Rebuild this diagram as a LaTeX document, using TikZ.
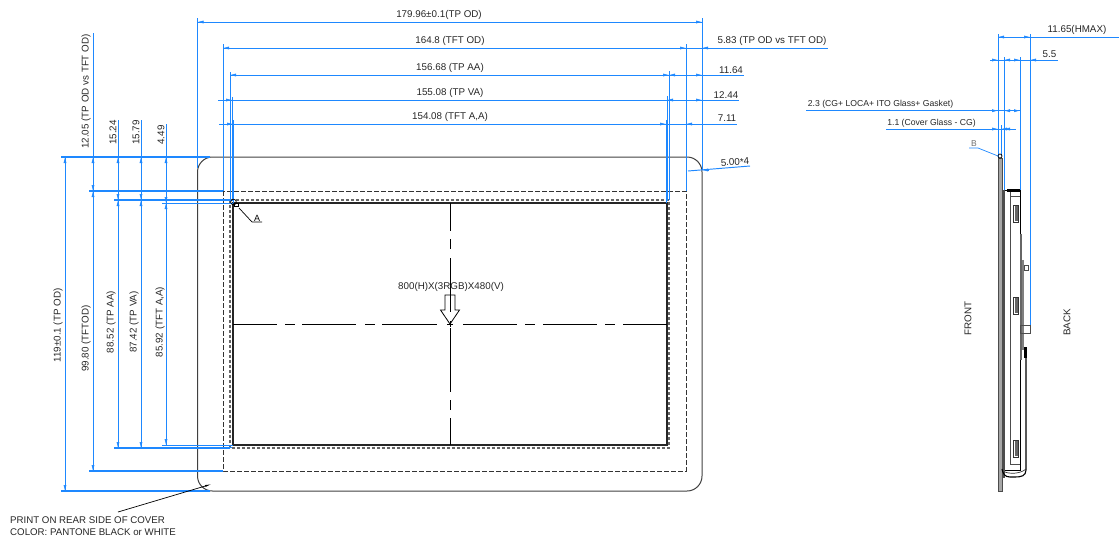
\documentclass[tikz,border=0pt]{standalone}
\usepackage{fontspec}
\setmainfont{Liberation Sans}
\usetikzlibrary{arrows.meta}
\definecolor{dimblue}{RGB}{30,136,255}
\definecolor{partgray}{RGB}{110,110,110}

\begin{document}
\begin{tikzpicture}
    [
      x=1pt, y=-1pt,
      dimline/.style = {draw=dimblue, line width=0.95pt},
      dimheavy/.style = {draw=dimblue, line width=1.3pt},
      dimtip/.style = {draw=dimblue, line width=0.5pt, -{Latex[length=6pt,width=3pt]}},
      dimtext/.style = {font=\fontsize{9.8}{11}\selectfont, inner sep=0pt, text=black!85},
      sidetext/.style = {dimtext, rotate=90},
      outline/.style = {draw=black!75, line width=1pt},
      dashbox/.style = {draw=black!80, line width=1pt, dash pattern=on 5pt off 2pt},
      centerline/.style = {draw=black, line width=0.8pt},
      leader/.style = {draw=black, line width=0.7pt},
    ]
    \useasboundingbox (0,0) rectangle (1119,539);

    % panel outlines
    \draw[outline] (197.5,157) [rounded corners=15pt] rectangle (702,491);
    \draw[dashbox] (223,191) rectangle (686,471);
    \draw[dashbox, draw=black!60, line width=1.2pt, dash pattern=on 3pt off 2pt] (230,200) rectangle (669,448);
    \draw[draw=black!85, line width=1.2pt] (233,203) rectangle (667,445);

    % center lines
    \foreach \xa/\xb in {233/277,285/295,302/356,365/375,382/437,447/453,463/517,525/535,543/597,605/615,623/667}
      \draw[centerline] (\xa,324) -- (\xb,324);
    \foreach \ya/\yb in {203/231,239/249,258/312,321/327,328/392,400/410,418/445}
      \draw[centerline] (450,\ya) -- (450,\yb);

    % viewing direction arrow
    \draw[line width=0.8pt] (445,295) -- (445,310) -- (440.5,310) -- (450,324) -- (459.5,310) -- (455,310) -- (455,295) -- cycle;
    \node[dimtext] (resolution) at (451,287) {800(H)X(3RGB)X480(V)};

    % top dimensions
    \foreach \xa/\xb/\yy in {197.5/702/22, 223/828/48, 230/744/75, 218/739/100, 219/737/124}
      \draw[dimline] (\xa,\yy) -- (\xb,\yy);
    \foreach \xx/\ya/\yb in {197.5/18/168, 702/18/170, 223/44/191, 686/44/191, 230/72/200, 669/71/200, 232/97/201, 667/96/201, 233/120/203, 666/120/203}
      \draw[dimline] (\xx,\ya) -- (\xx,\yb);
    \foreach \xx/\yy/\dd in {197.5/22/1, 702/22/-1, 223/48/1, 686/48/-1, 702/48/1, 230/75/1, 669/75/-1, 669/75/1, 702/75/-1, 232/100/-1, 667/100/1, 702/100/-1, 233/124/-1, 666/124/-1, 686/124/1, 702/170/1}
      \draw[dimtip] (\xx+\dd*7,\yy) -- (\xx,\yy);
    \draw[dimline] (688,171) -- (750,166);

    \node[dimtext] (tpod) at (439,15) {179.96±0.1(TP OD)};
    \node[dimtext] (tftod) at (450,40.5) {164.8 (TFT OD)};
    \node[dimtext] (tpaa) at (450,68) {156.68 (TP AA)};
    \node[dimtext] (tpva) at (450,92.5) {155.08 (TP VA)};
    \node[dimtext] (tftaa) at (450,116.5) {154.08 (TFT A,A)};
    \node[dimtext] (odgap) at (772,40.5) {5.83 (TP OD vs TFT OD)};
    \node[dimtext] (aagap) at (731,70) {11.64};
    \node[dimtext] (vagap) at (726,95) {12.44};
    \node[dimtext] (tftgap) at (727,118.5) {7.11};
    \node[dimtext, rotate=3] (corner) at (735,162) {5.00*4};

    % left dimensions
    \foreach \xa/\xb/\yy in {61/210/157, 89/223/191, 114/230/200, 137/232/200.5, 61/210/491, 89/223/471, 114/230/448, 137/232/447.5}
      \draw[dimheavy] (\xa,\yy) -- (\xb,\yy);
    \foreach \xa/\xb/\yy in {162/233/203, 162/233/445}
      \draw[dimline] (\xa,\yy) -- (\xb,\yy);
    \foreach \xx/\ya/\yb in {65/157/491, 93/33/471, 118/120/448, 141/120/448, 166/124/445}
      \draw[dimline] (\xx,\ya) -- (\xx,\yb);
    \foreach \xx/\yy/\dd in {65/157/1, 65/491/-1, 93/157/1, 93/191/-1, 93/191/1, 93/471/-1, 118/157/1, 118/200/-1, 118/200/1, 118/448/-1, 141/157/1, 141/200/-1, 141/200/1, 141/448/-1, 166/157/1, 166/203/-1, 166/203/1, 166/445/-1}
      \draw[dimtip] (\xx,\yy+\dd*7) -- (\xx,\yy);

    \node[sidetext] (topgap) at (86,91.5) {12.05 (TP OD vs TFT OD)};
    \node[sidetext] (aatop) at (113,132.5) {15.24};
    \node[sidetext] (vatop) at (136,132.5) {15.79};
    \node[sidetext] (tfttop) at (161,135) {4.49};
    \node[sidetext] (tpheight) at (58,325.5) {119±0.1 (TP OD)};
    \node[sidetext] (tftheight) at (86,338.5) {99.80 (TFTOD)};
    \node[sidetext] (aaheight) at (111,322) {88.52 (TP AA)};
    \node[sidetext] (vaheight) at (134,322) {87.42 (TP VA)};
    \node[sidetext] (tftaaheight) at (160,322) {85.92 (TFT A,A)};

    % detail mark A
    \draw[leader] (233.5,202) circle (2.8pt);
    \draw[leader] (234.5,203) rectangle (238,206.5);
    \coordinate (markA) at (239,208);
    \coordinate (kneeA) at (252,222);
    \draw[leader] (markA) -- (kneeA) -- (262,222);
    \node[font=\fontsize{9}{10}\selectfont, inner sep=0pt] (labelA) at (257,218) {A};

    % print note
    \node[dimtext, align=left, anchor=north west, font=\fontsize{9.7}{12}\selectfont] (printnote) at (10,516.5) {PRINT ON REAR SIDE OF COVER\\COLOR: PANTONE BLACK or WHITE};
    \draw[leader, -{Latex[length=7pt,width=2pt]}] (118,512) -- (212,484);

    % side view dimensions
    \foreach \xa/\xb/\yy in {998/1119/37, 990/1058/60, 806/1020/110.7, 886/1016/129}
      \draw[dimline] (\xa,\yy) -- (\xb,\yy);
    \foreach \xx/\ya/\yb in {998/34/263, 1030/34/325, 1004/57/190, 1020/57/190}
      \draw[dimline] (\xx,\ya) -- (\xx,\yb);
    \draw[dimline, line width=0.5pt] (1001,125) -- (1001,156);
    \foreach \xx/\yy/\dd in {998/37/1, 1030/37/-1, 998/60/-1, 1004/60/1, 1020/60/-1, 1030/60/1, 998/110.7/-1, 1004/110.7/1, 1020/110.7/-1, 998/129/-1, 1001/129/1, 1004/129/1}
      \draw[dimtip] (\xx+\dd*6,\yy) -- (\xx,\yy);
    \node[dimtext] (hmax) at (1077,29.5) {11.65(HMAX)};
    \node[dimtext] (backgap) at (1049.5,54.5) {5.5};
    \node[dimtext, font=\fontsize{8.65}{10}\selectfont] (stack) at (880.5,104.5) {2.3 (CG+ LOCA+ ITO Glass+ Gasket)};
    \node[dimtext, font=\fontsize{8.65}{10}\selectfont] (glass) at (931.5,123) {1.1 (Cover Glass - CG)};
    \node[font=\fontsize{8.5}{9}\rmfamily\selectfont, inner sep=0pt, text=partgray] (labelB) at (974,144) {B};
    \coordinate (markB) at (998,156);
    \draw[dimline, line width=0.7pt] (969,148) -- (978,148) -- (markB);

    % side view
    \draw[draw=black!70, fill=black!35, line width=0.5pt] (998.2,158) rectangle (1002,491);
    \draw[leader] (1000,156) circle (2pt);
    \fill[black!70] (1002,190) rectangle (1005,478);
    \draw[draw=black, line width=1pt] (1005,190) -- (1020,190) -- (1020,470) -- (1005,470);
    \fill[black] (1007,189) rectangle (1020,192);
    \draw[draw=black!70, line width=0.8pt] (1010,192) -- (1010,464) -- (1020,464);
    \draw[draw=black!70, line width=0.8pt] (1010,196) -- (1020,196);
    \foreach \yy in {205,297,440}
      {
        \draw[draw=black!80, fill=white, line width=0.8pt] (1013,\yy) rectangle (1018,\yy+17);
        \fill[black!60] (1015,\yy+1) rectangle (1017.5,\yy+16);
      }
    \fill[black!60] (1020,234) rectangle (1022,360);
    \fill[black!50] (1022,260) rectangle (1024,350);
    \draw[draw=black!70, line width=0.7pt] (1024.5,265) rectangle (1028,270);
    \draw[draw=black!70, line width=0.7pt] (1020,325) rectangle (1030,333);
    \fill[black] (1024,347) rectangle (1026.5,358);
    \draw[draw=black, line width=1.1pt] (1026,357) -- (1026,470) .. controls (1026,476) and (1021,477) .. (1015,477) -- (1010,477) .. controls (1005,477) and (1003,474) .. (1002,469);
    \draw[draw=black!80, line width=0.7pt] (1005,472) .. controls (1010,474) and (1020,474) .. (1026,469);

    \node[sidetext] (front) at (968,318.5) {FRONT};
    \node[sidetext] (back) at (1067,322.5) {BACK};
\end{tikzpicture}
\end{document}
